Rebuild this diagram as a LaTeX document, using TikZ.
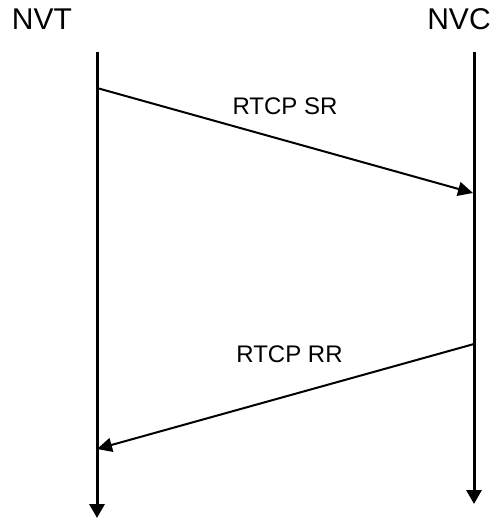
\documentclass[tikz,border=0pt]{standalone}
\usepackage{fontspec}
\setmainfont{Liberation Sans}
\usetikzlibrary{arrows.meta}
\begin{document}
\begin{tikzpicture}[x=1pt,y=-1pt,
  lifeline/.style={line width=3pt,-{Triangle[length=14pt,width=15pt]}},
  msg/.style={line width=2pt,-{Triangle[length=15pt,width=14pt]}},
  actor/.style={font=\fontsize{30}{36}\selectfont,anchor=base,inner sep=0pt},
  msglabel/.style={font=\fontsize{24}{29}\selectfont,anchor=base,inner sep=0pt}]
\useasboundingbox (0,0) rectangle (493,519);
\node[actor] (nvt) at (42,30) {NVT};
\node[actor] (nvc) at (459,30) {NVC};
\coordinate (lt) at (97,52);
\coordinate (lb) at (97,518);
\coordinate (rt) at (474,52);
\coordinate (rb) at (474,504);
\coordinate (s1) at (97,88);
\coordinate (e1) at (473,193);
\coordinate (s2) at (474,344);
\coordinate (e2) at (97,449);
\draw[lifeline] (lt) -- (lb);
\draw[lifeline] (rt) -- (rb);
\draw[msg] (s1) -- (e1);
\draw[msg] (s2) -- (e2);
\node[msglabel] (sr) at (285,114) {RTCP SR};
\node[msglabel] (rr) at (289.5,362) {RTCP RR};
\end{tikzpicture}
\end{document}
